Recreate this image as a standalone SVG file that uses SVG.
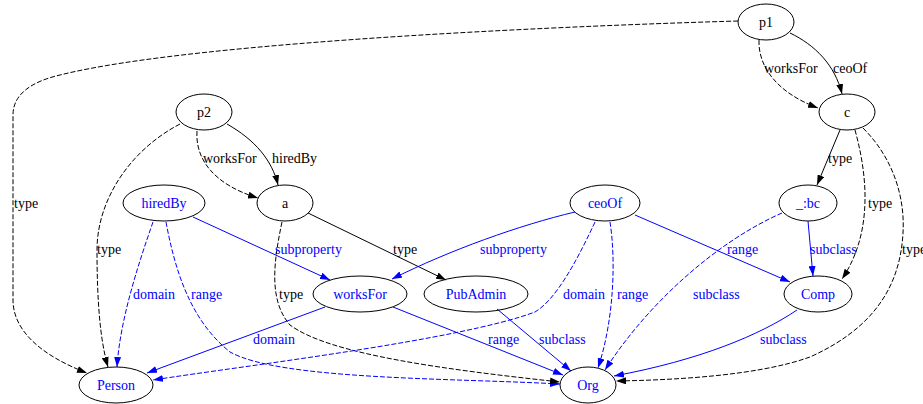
<svg xmlns="http://www.w3.org/2000/svg" width="923" height="404" viewBox="0 0 923 404">
<style>
text{font-family:"Liberation Serif","Times New Roman",serif;font-size:14px}
.n ellipse{fill:none;stroke:#000;stroke-width:1}
.n text{text-anchor:middle}
.k{fill:#000}
.b{fill:#0000ff}
.e path{fill:none;stroke-width:1}
.e .ks{stroke:#000;marker-end:url(#ak)}
.e .bs{stroke:#0000ff;marker-end:url(#ab)}
.e .d{stroke-dasharray:5,2}
.lbl text{text-anchor:start}
</style>
<defs>
<marker id="ak" viewBox="0 0 10 7" refX="10" refY="3.5" markerWidth="10" markerHeight="7" markerUnits="userSpaceOnUse" orient="auto"><path d="M0,0 L10,3.5 L0,7 z" fill="#000"/></marker>
<marker id="ab" viewBox="0 0 10 7" refX="10" refY="3.5" markerWidth="10" markerHeight="7" markerUnits="userSpaceOnUse" orient="auto"><path d="M0,0 L10,3.5 L0,7 z" fill="#0000ff"/></marker>
</defs>
<rect width="923" height="404" fill="#fff"/>
<g id="connectors" class="e">
<path class="ks d" d="M738,21 C600,25 200,40 60,75 C30,82 13,95 13,115 L13,300 C13,330 40,355 87,373"/>
<path class="ks d" d="M759,40 C758,65 775,92 818,108"/>
<path class="ks" d="M790,33 C815,45 835,65 842,94"/>
<path class="ks" d="M840,130 L817,185"/>
<path class="ks d" d="M855,130 C866,170 875,230 842,279"/>
<path class="ks d" d="M863,128 C895,160 905,200 903,233 C900,290 870,330 810,357 C760,375 680,380 616,381"/>
<path class="ks d" d="M180,124 C130,150 97,200 97,250 C97,300 100,340 108,367"/>
<path class="ks d" d="M197,131 C195,160 215,185 258,198"/>
<path class="ks" d="M227,124 C255,140 272,160 278,185"/>
<path class="bs" d="M193,217 L330,280"/>
<path class="bs d" d="M153,222 C138,265 120,320 117,367"/>
<path class="bs d" d="M166,222 C175,270 190,320 230,352 C280,380 450,378 560,384"/>
<path class="ks" d="M308,213 L446,280"/>
<path class="ks d" d="M282,222 C274,260 268,300 290,325 C330,355 450,370 560,382"/>
<path class="bs" d="M575,212 C520,225 450,250 392,279"/>
<path class="bs d" d="M595,222 C575,265 555,300 535,312 C460,340 250,365 153,380"/>
<path class="bs d" d="M610,222 C616,260 614,320 598,368"/>
<path class="bs" d="M635,215 L790,282"/>
<path class="bs d" d="M782,213 C720,240 650,300 605,370"/>
<path class="bs" d="M808,221 L813,276"/>
<path class="bs" d="M325,307 L147,373"/>
<path class="bs" d="M393,307 L563,375"/>
<path class="bs" d="M497,309 L571,371"/>
<path class="bs" d="M797,310 C760,335 700,360 614,376"/>
<g class="lbl">
<text class="k" x="14" y="208">type</text>
<text class="k" x="764" y="73">worksFor</text>
<text class="k" x="833" y="73">ceoOf</text>
<text class="k" x="828" y="163">type</text>
<text class="k" x="868" y="208">type</text>
<text class="k" x="902" y="254">type</text>
<text class="k" x="97" y="254">type</text>
<text class="k" x="203" y="163">worksFor</text>
<text class="k" x="272" y="163">hiredBy</text>
<text class="b" x="275" y="254">subproperty</text>
<text class="b" x="133" y="299">domain</text>
<text class="b" x="191" y="299">range</text>
<text class="k" x="393" y="254">type</text>
<text class="k" x="279" y="299">type</text>
<text class="b" x="480" y="254">subproperty</text>
<text class="b" x="563" y="299">domain</text>
<text class="b" x="617" y="299">range</text>
<text class="b" x="727" y="254">range</text>
<text class="b" x="693" y="299">subclass</text>
<text class="b" x="810" y="254">subclass</text>
<text class="b" x="253" y="344">domain</text>
<text class="b" x="488" y="344">range</text>
<text class="b" x="539" y="344">subclass</text>
<text class="b" x="760" y="344">subclass</text>
</g>
</g>
<g id="p1" class="n"><ellipse cx="766" cy="22" rx="28" ry="18"/><text class="k" x="766" y="27">p1</text></g>
<g id="c" class="n"><ellipse cx="847" cy="112" rx="28" ry="18"/><text class="k" x="847" y="117">c</text></g>
<g id="p2" class="n"><ellipse cx="204" cy="112" rx="28" ry="18"/><text class="k" x="204" y="117">p2</text></g>
<g id="a" class="n"><ellipse cx="285" cy="203" rx="28" ry="18"/><text class="k" x="285" y="208">a</text></g>
<g id="hiredBy" class="n"><ellipse cx="164" cy="203" rx="41" ry="18"/><text class="b" x="164" y="208">hiredBy</text></g>
<g id="ceoOf" class="n"><ellipse cx="605" cy="203" rx="35" ry="18"/><text class="b" x="605" y="208">ceoOf</text></g>
<g id="bc" class="n"><ellipse cx="808" cy="203" rx="29" ry="18"/><text class="b" x="808" y="208">_:bc</text></g>
<g id="worksFor" class="n"><ellipse cx="360" cy="294" rx="47" ry="18"/><text class="b" x="360" y="299">worksFor</text></g>
<g id="PubAdmin" class="n"><ellipse cx="476" cy="294" rx="52" ry="18"/><text class="b" x="476" y="299">PubAdmin</text></g>
<g id="Comp" class="n"><ellipse cx="818" cy="294" rx="34" ry="18"/><text class="b" x="818" y="299">Comp</text></g>
<g id="Person" class="n"><ellipse cx="116" cy="385" rx="37" ry="18"/><text class="b" x="116" y="390">Person</text></g>
<g id="Org" class="n"><ellipse cx="588" cy="385" rx="28" ry="18"/><text class="b" x="588" y="390">Org</text></g>
</svg>
